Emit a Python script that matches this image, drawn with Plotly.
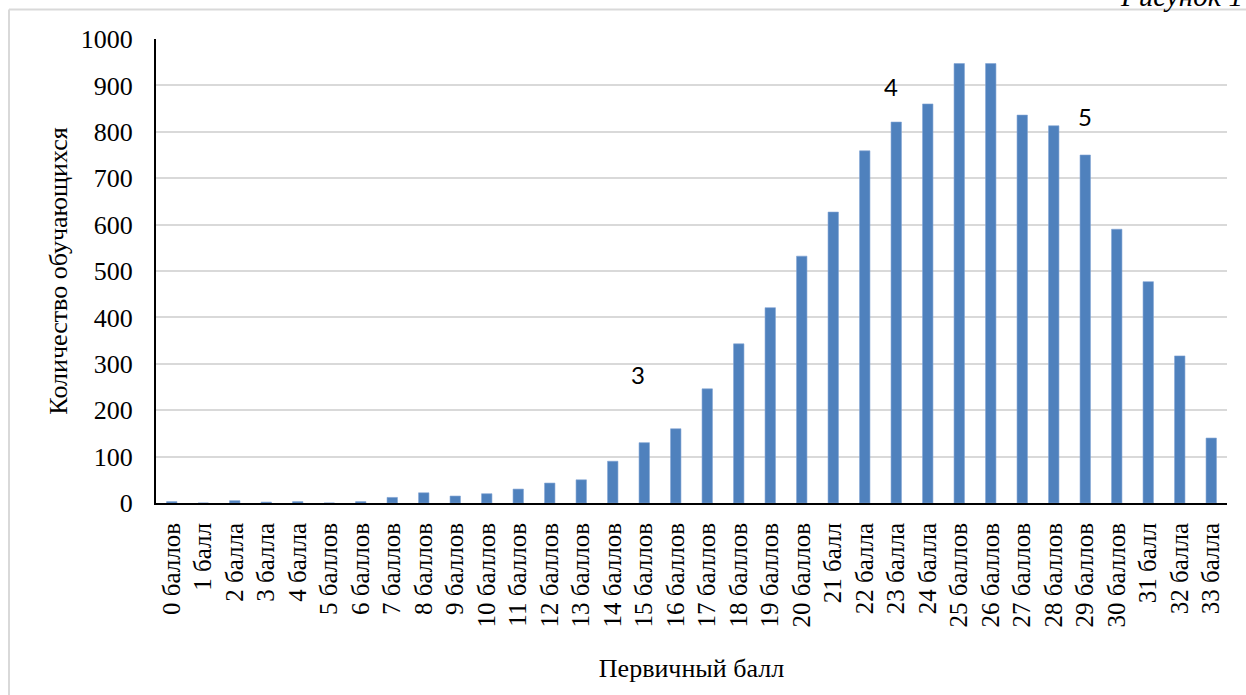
import plotly.graph_objects as go

categories = ["0 баллов", "1 балл", "2 балла", "3 балла", "4 балла", "5 баллов", "6 баллов",
              "7 баллов", "8 баллов", "9 баллов", "10 баллов", "11 баллов", "12 баллов",
              "13 баллов", "14 баллов", "15 баллов", "16 баллов", "17 баллов", "18 баллов",
              "19 баллов", "20 баллов", "21 балл", "22 балла", "23 балла", "24 балла",
              "25 баллов", "26 баллов", "27 баллов", "28 баллов", "29 баллов", "30 баллов",
              "31 балл", "32 балла", "33 балла"]
values = [3, 0, 5, 2, 3, 0, 3, 12, 22, 15, 20, 30, 43, 50, 90, 130, 160, 246, 343, 421,
          532, 627, 759, 821, 860, 947, 947, 836, 813, 750, 590, 477, 317, 140]
y_ticks = [0, 100, 200, 300, 400, 500, 600, 700, 800, 900, 1000]

grade_marks = ["3", "4", "5"]
grade_cats = ["15 баллов", "23 балла", "29 баллов"]
grade_y = [276, 897, 834]

W, H = 1246, 695
ML, MR, MT, MB = 156, 19, 39, 192
SERIF = "Liberation Serif"

fig = go.Figure()
fig.add_trace(go.Bar(
    x=categories, y=values,
    marker=dict(color="#4F81BD", line=dict(color="#7FA3D3", width=0.6)),
    width=0.33,
))

label_nudge = {"3": -6, "4": -5, "5": 0}
for t, c, yv in zip(grade_marks, grade_cats, grade_y):
    fig.add_annotation(x=c, y=yv, text=t, showarrow=False, xref="x", yref="y",
                       xshift=label_nudge[t],
                       font=dict(family="Lato", size=24, color="black"))

pw, ph = W - ML - MR, H - MT - MB

fig.add_annotation(xref="paper", yref="paper", x=(1118 - ML) / pw,
                   y=1 + (MT - 14) / ph, xanchor="left", yanchor="bottom",
                   text="<i>Рисунок 1</i>", showarrow=False,
                   font=dict(family=SERIF, size=29, color="black"))

# outer light-gray frame: top and left edges only visible
fx0 = (9 - ML) / pw
fy1 = 1 + (MT - 9.5) / ph
fig.add_shape(type="line", xref="paper", yref="paper",
              x0=fx0, x1=(W + 5 - ML) / pw, y0=fy1, y1=fy1,
              line=dict(color="#D9D9D9", width=2), layer="below")
fig.add_shape(type="line", xref="paper", yref="paper",
              x0=fx0, x1=fx0, y0=fy1, y1=-(H + 5 - MT - ph) / ph,
              line=dict(color="#D9D9D9", width=2), layer="below")

fig.update_layout(
    width=W, height=H,
    margin=dict(l=ML, r=MR, t=MT, b=MB, pad=0, autoexpand=False),
    paper_bgcolor="white", plot_bgcolor="white",
    showlegend=False,
    font=dict(family=SERIF, size=25, color="black"),
    xaxis=dict(
        automargin=False,
        tickangle=-90, showgrid=False, showline=True, linecolor="black", linewidth=2,
        ticks="outside", ticklen=8, tickcolor="rgba(0,0,0,0)",
        tickfont=dict(family=SERIF, size=25),
        title=dict(text="Первичный балл", font=dict(family=SERIF, size=26), standoff=32),
    ),
    yaxis=dict(
        automargin=False,
        range=[0, 1000], tickvals=y_ticks, showgrid=True, gridcolor="#D9D9D9", gridwidth=2,
        showline=True, linecolor="black", linewidth=2, zeroline=False,
        ticks="outside", ticklen=16, tickcolor="rgba(0,0,0,0)",
        tickfont=dict(family=SERIF, size=26),
        title=dict(text="Количество обучающихся", font=dict(family=SERIF, size=26), standoff=6),
    ),
)

fig.write_html("out.html", config={"displayModeBar": False},
               post_script="document.body.style.margin='0';document.body.style.overflow='hidden';")
